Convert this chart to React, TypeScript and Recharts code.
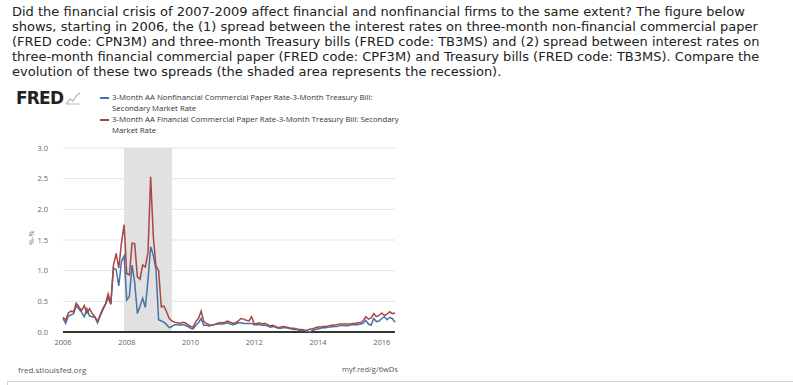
import { LineChart, Line, XAxis, YAxis, CartesianGrid, ReferenceArea, ReferenceLine } from "recharts";

// monthly spreads, Jan 2006 - Jun 2016 (percentage points)
const nonfinancialSpread = [
  0.22, 0.14, 0.26, 0.28, 0.30, 0.43, 0.37, 0.32, 0.25, 0.38, 0.26, 0.25,
  0.24, 0.15, 0.26, 0.36, 0.45, 0.56, 0.45, 1.04, 1.02, 0.75, 1.15, 1.24,
  0.52, 0.58, 1.09, 0.80, 0.30, 0.42, 0.55, 0.40, 0.85, 1.39, 1.25, 1.02,
  0.20, 0.18, 0.16, 0.12, 0.07, 0.09, 0.12, 0.12, 0.11, 0.12, 0.11, 0.09,
  0.06, 0.05, 0.11, 0.15, 0.22, 0.11, 0.11, 0.10, 0.11, 0.12, 0.13, 0.13,
  0.13, 0.14, 0.15, 0.13, 0.12, 0.13, 0.15, 0.15, 0.14, 0.14, 0.14, 0.14,
  0.12, 0.12, 0.12, 0.11, 0.11, 0.10, 0.08, 0.09, 0.08, 0.06, 0.06, 0.07,
  0.07, 0.06, 0.05, 0.04, 0.04, 0.03, 0.02, 0.02, 0.01, 0.0, 0.03, 0.04,
  0.05, 0.06, 0.07, 0.07, 0.08, 0.08, 0.09, 0.09, 0.10, 0.11, 0.10, 0.10,
  0.11, 0.12, 0.12, 0.12, 0.13, 0.14, 0.19, 0.13, 0.11, 0.22, 0.17, 0.18,
  0.22, 0.25, 0.20, 0.24, 0.22, 0.16,
];

const financialSpread = [
  0.24, 0.19, 0.31, 0.34, 0.33, 0.47, 0.41, 0.35, 0.43, 0.31, 0.38, 0.30,
  0.25, 0.17, 0.28, 0.38, 0.46, 0.62, 0.46, 1.09, 1.28, 1.04, 1.45, 1.75,
  0.95, 0.93, 1.45, 1.44, 0.90, 0.86, 1.09, 1.06, 1.30, 2.53, 1.55, 1.08,
  1.00, 0.41, 0.42, 0.33, 0.22, 0.18, 0.16, 0.15, 0.14, 0.16, 0.15, 0.12,
  0.09, 0.08, 0.17, 0.22, 0.34, 0.17, 0.14, 0.12, 0.11, 0.12, 0.14, 0.15,
  0.15, 0.16, 0.18, 0.16, 0.14, 0.15, 0.18, 0.22, 0.21, 0.19, 0.18, 0.25,
  0.13, 0.14, 0.15, 0.13, 0.14, 0.12, 0.10, 0.11, 0.09, 0.07, 0.08, 0.09,
  0.08, 0.07, 0.06, 0.06, 0.05, 0.04, 0.04, 0.03, 0.03, 0.05, 0.05, 0.07,
  0.08, 0.08, 0.09, 0.09, 0.10, 0.11, 0.11, 0.12, 0.13, 0.13, 0.13, 0.13,
  0.13, 0.14, 0.14, 0.15, 0.15, 0.18, 0.25, 0.21, 0.23, 0.30, 0.25, 0.27,
  0.31, 0.27, 0.29, 0.33, 0.30, 0.31,
];

const startYear = 2006;
const yearTicks = [2006, 2008, 2010, 2012, 2014, 2016];
const valueTicks = [0, 0.5, 1.0, 1.5, 2.0, 2.5, 3.0];
const recession = { from: 2007 + 11 / 12, to: 2009 + 5 / 12 };

const questionLines = [
  "Did the financial crisis of 2007-2009 affect financial and nonfinancial firms to the same extent? The figure below",
  "shows, starting in 2006, the (1) spread between the interest rates on three-month non-financial commercial paper",
  "(FRED code: CPN3M) and three-month Treasury bills (FRED code: TB3MS) and (2) spread between interest rates on",
  "three-month financial commercial paper (FRED code: CPF3M) and Treasury bills (FRED code: TB3MS). Compare the",
  "evolution of these two spreads (the shaded area represents the recession).",
];

const BLUE = "#4572a7";
const RED = "#aa4643";

const rows = financialSpread.map((v, i) => ({
  t: startYear + i / 12,
  financial: v,
  nonfinancial: nonfinancialSpread[i],
}));

const tickStyle = { fontSize: 7.5, fill: "#666", fontFamily: "'Open Sans', sans-serif" };

export default function App() {
  return (
    <div
      style={{
        position: "absolute",
        left: 0,
        top: 0,
        width: 793,
        height: 385,
        background: "#fff",
        overflow: "hidden",
        fontFamily: "'DejaVu Sans', Verdana, sans-serif",
      }}
    >
      <div style={{ position: "absolute", left: 12, top: 4, fontSize: 13, lineHeight: "15px", color: "#222" }}>
        {questionLines.map((l) => (
          <div key={l} style={{ whiteSpace: "nowrap" }}>{l}</div>
        ))}
      </div>

      {/* FRED logo */}
      <div
        style={{
          position: "absolute",
          left: 16,
          top: 88,
          fontFamily: "'DejaVu Sans', sans-serif",
          fontWeight: 900,
          fontSize: 17,
          letterSpacing: -0.8,
          color: "#222",
        }}
      >
        FRED
      </div>
      <svg style={{ position: "absolute", left: 65, top: 91 }} width={16} height={14}>
        <polyline points="1,13 5,8 8,10 12,4 15,2" fill="none" stroke="#9bc29b" strokeWidth={1.2} />
        <polyline points="1,13 15,13" stroke="#bbb" strokeWidth={1} />
        <polyline points="3,13 3,9 M7,13 7,7" stroke="#ccc" strokeWidth={1} />
      </svg>

      {/* legend */}
      <div
        style={{
          position: "absolute",
          left: 100,
          top: 92,
          fontFamily: "'Open Sans', sans-serif",
          fontSize: 7.8,
          lineHeight: "11px",
          color: "#333",
        }}
      >
        {[
          { c: BLUE, a: "3-Month AA Nonfinancial Commercial Paper Rate-3-Month Treasury Bill:", b: "Secondary Market Rate" },
          { c: RED, a: "3-Month AA Financial Commercial Paper Rate-3-Month Treasury Bill: Secondary", b: "Market Rate" },
        ].map((s) => (
          <div key={s.a} style={{ position: "relative", paddingLeft: 12 }}>
            <span style={{ position: "absolute", left: 0, top: 5, width: 9, height: 2, background: s.c }} />
            <div style={{ whiteSpace: "nowrap" }}>{s.a}</div>
            <div style={{ whiteSpace: "nowrap" }}>{s.b}</div>
          </div>
        ))}
      </div>

      <div
        style={{
          position: "absolute",
          left: 26,
          top: 245,
          transform: "rotate(-90deg)",
          transformOrigin: "left top",
          fontSize: 7.5,
          color: "#666",
          fontFamily: "'Open Sans', sans-serif",
        }}
      >
        %-%
      </div>

      <div style={{ position: "absolute", left: 0, top: 140 }}>
        <LineChart width={420} height={215} data={rows} margin={{ top: 8, right: 25, bottom: 3, left: 23 }}>
          <CartesianGrid vertical={false} stroke="#e3e3e3" />
          <ReferenceArea x1={recession.from} x2={recession.to} y1={0} y2={3} fill="#e1e1e1" fillOpacity={1} stroke="none" />
          <XAxis
            dataKey="t"
            type="number"
            domain={[startYear, startYear + (rows.length - 1) / 12]}
            ticks={yearTicks}
            tickFormatter={(v) => String(Math.round(v))}
            tick={tickStyle}
            tickLine={false}
            axisLine={false}
            height={20}
          />
          <YAxis
            domain={[0, 3]}
            ticks={valueTicks}
            tickFormatter={(v) => v.toFixed(1)}
            tick={tickStyle}
            tickLine={false}
            axisLine={false}
            tickMargin={9}
            width={40}
          />
          <ReferenceLine y={0} stroke="#333" strokeWidth={2} />
          <Line dataKey="nonfinancial" stroke={BLUE} strokeWidth={1.5} dot={false} isAnimationActive={false} />
          <Line dataKey="financial" stroke={RED} strokeWidth={1.5} dot={false} isAnimationActive={false} />
        </LineChart>
      </div>

      <div style={{ position: "absolute", left: 18, top: 364, fontSize: 8, color: "#555", fontFamily: "'Open Sans', sans-serif" }}>
        fred.stlouisfed.org
      </div>
      <div style={{ position: "absolute", left: 342, top: 364, fontSize: 7.5, color: "#555", fontFamily: "'Open Sans', sans-serif" }}>
        myf.red/g/6wDs
      </div>
      <div
        style={{
          position: "absolute",
          left: 7,
          top: 381,
          width: 800,
          height: 10,
          borderTop: "1px solid #d4d4d4",
          borderLeft: "1px solid #d4d4d4",
        }}
      />
    </div>
  );
}
